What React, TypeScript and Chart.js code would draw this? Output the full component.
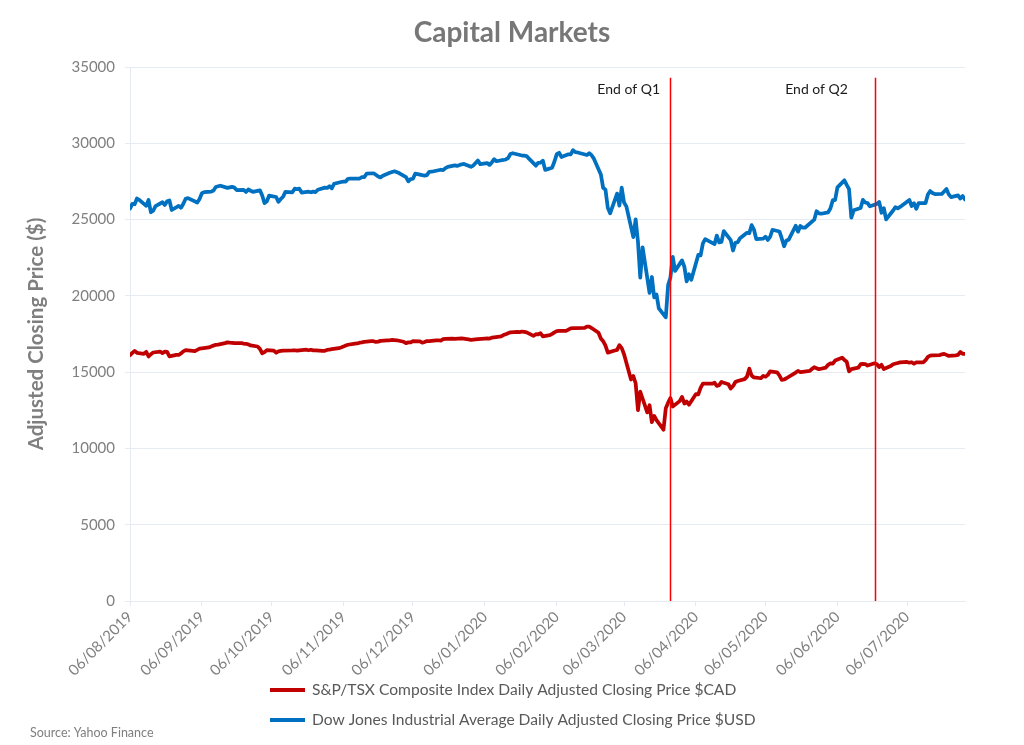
import { useEffect, useRef } from 'react';
import { Chart, registerables } from 'chart.js';

Chart.register(...registerables);

// ---------- data ----------
const CHART_TITLE = 'Capital Markets';
const Y_AXIS_TITLE = 'Adjusted Closing Price ($)';
const SOURCE_TEXT = 'Source: Yahoo Finance';

const AXIS_START = '2019-08-06';
const AXIS_END = '2020-07-31';
const X_TICK_LABELS = [
  '06/08/2019', '06/09/2019', '06/10/2019', '06/11/2019', '06/12/2019', '06/01/2020',
  '06/02/2020', '06/03/2020', '06/04/2020', '06/05/2020', '06/06/2020', '06/07/2020',
];
const Y_MIN = 0;
const Y_MAX = 35000;
const Y_STEP = 5000;

const TSX_LABEL = 'S&P/TSX Composite Index Daily Adjusted Closing Price $CAD';
const DOW_LABEL = 'Dow Jones Industrial Average Daily Adjusted Closing Price $USD';

const TSX_DATES = [
  '2019-08-06', '2019-08-07', '2019-08-08', '2019-08-09', '2019-08-12', '2019-08-13', '2019-08-14', '2019-08-15', '2019-08-16', '2019-08-19', '2019-08-20', '2019-08-21', '2019-08-22', '2019-08-23', '2019-08-26', '2019-08-27', '2019-08-28', '2019-08-29', '2019-08-30',
  '2019-09-03', '2019-09-04', '2019-09-05', '2019-09-06', '2019-09-09', '2019-09-10', '2019-09-11', '2019-09-12', '2019-09-13', '2019-09-16', '2019-09-17', '2019-09-18', '2019-09-19', '2019-09-20', '2019-09-23', '2019-09-24', '2019-09-25', '2019-09-26', '2019-09-27', '2019-09-30',
  '2019-10-01', '2019-10-02', '2019-10-03', '2019-10-04', '2019-10-07', '2019-10-08', '2019-10-09', '2019-10-10', '2019-10-11', '2019-10-15', '2019-10-16', '2019-10-17', '2019-10-18', '2019-10-21', '2019-10-22', '2019-10-23', '2019-10-24', '2019-10-25', '2019-10-28', '2019-10-29', '2019-10-30', '2019-10-31',
  '2019-11-01', '2019-11-04', '2019-11-05', '2019-11-06', '2019-11-07', '2019-11-08', '2019-11-11', '2019-11-12', '2019-11-13', '2019-11-14', '2019-11-15', '2019-11-18', '2019-11-19', '2019-11-20', '2019-11-21', '2019-11-22', '2019-11-25', '2019-11-26', '2019-11-27', '2019-11-28', '2019-11-29',
  '2019-12-02', '2019-12-03', '2019-12-04', '2019-12-05', '2019-12-06', '2019-12-09', '2019-12-10', '2019-12-11', '2019-12-12', '2019-12-13', '2019-12-16', '2019-12-17', '2019-12-18', '2019-12-19', '2019-12-20', '2019-12-23', '2019-12-24', '2019-12-27', '2019-12-30', '2019-12-31',
  '2020-01-02', '2020-01-03', '2020-01-06', '2020-01-07', '2020-01-08', '2020-01-09', '2020-01-10', '2020-01-13', '2020-01-14', '2020-01-15', '2020-01-16', '2020-01-17', '2020-01-20', '2020-01-21', '2020-01-22', '2020-01-23', '2020-01-24', '2020-01-27', '2020-01-28', '2020-01-29', '2020-01-30', '2020-01-31',
  '2020-02-03', '2020-02-04', '2020-02-05', '2020-02-06', '2020-02-07', '2020-02-10', '2020-02-11', '2020-02-12', '2020-02-13', '2020-02-14', '2020-02-18', '2020-02-19', '2020-02-20', '2020-02-21', '2020-02-24', '2020-02-25', '2020-02-26', '2020-02-27', '2020-02-28',
  '2020-03-02', '2020-03-03', '2020-03-04', '2020-03-05', '2020-03-06', '2020-03-09', '2020-03-10', '2020-03-11', '2020-03-12', '2020-03-13', '2020-03-16', '2020-03-17', '2020-03-18', '2020-03-19', '2020-03-20', '2020-03-23', '2020-03-24', '2020-03-25', '2020-03-26', '2020-03-27', '2020-03-30', '2020-03-31',
  '2020-04-01', '2020-04-02', '2020-04-03', '2020-04-06', '2020-04-07', '2020-04-08', '2020-04-09', '2020-04-13', '2020-04-14', '2020-04-15', '2020-04-16', '2020-04-17', '2020-04-20', '2020-04-21', '2020-04-22', '2020-04-23', '2020-04-24', '2020-04-27', '2020-04-28', '2020-04-29', '2020-04-30',
  '2020-05-01', '2020-05-04', '2020-05-05', '2020-05-06', '2020-05-07', '2020-05-08', '2020-05-11', '2020-05-12', '2020-05-13', '2020-05-14', '2020-05-15', '2020-05-19', '2020-05-20', '2020-05-21', '2020-05-22', '2020-05-25', '2020-05-26', '2020-05-27', '2020-05-28', '2020-05-29',
  '2020-06-01', '2020-06-02', '2020-06-03', '2020-06-04', '2020-06-05', '2020-06-08', '2020-06-09', '2020-06-10', '2020-06-11', '2020-06-12', '2020-06-15', '2020-06-16', '2020-06-17', '2020-06-18', '2020-06-19', '2020-06-22', '2020-06-23', '2020-06-24', '2020-06-25', '2020-06-26', '2020-06-29', '2020-06-30',
  '2020-07-02', '2020-07-03', '2020-07-06', '2020-07-07', '2020-07-08', '2020-07-09', '2020-07-10', '2020-07-13', '2020-07-14', '2020-07-15', '2020-07-16', '2020-07-17', '2020-07-20', '2020-07-21', '2020-07-22', '2020-07-23', '2020-07-24', '2020-07-27', '2020-07-28', '2020-07-29', '2020-07-30', '2020-07-31',
];
const TSX_VALUES = [
  16112, 16262, 16396, 16269, 16204, 16330, 16025, 16174, 16287, 16350, 16250, 16341, 16327, 16037, 16137, 16127, 16228, 16364, 16442,
  16384, 16458, 16538, 16560, 16620, 16680, 16740, 16790, 16800, 16900, 16950, 16930, 16920, 16900, 16910, 16870, 16860, 16820, 16750, 16680,
  16524, 16238, 16312, 16448, 16412, 16272, 16366, 16390, 16415, 16428, 16435, 16412, 16427, 16471, 16433, 16467, 16425, 16419, 16393, 16396, 16459, 16483,
  16503, 16571, 16617, 16675, 16744, 16794, 16870, 16880, 16930, 16950, 16990, 17030, 17030, 16980, 17000, 17050, 17080, 17090, 17110, 17100, 17090,
  16990, 16900, 16950, 16950, 17040, 17020, 16930, 16980, 17040, 17030, 17080, 17090, 17070, 17160, 17180, 17200, 17180, 17210, 17150, 17110,
  17150, 17170, 17200, 17210, 17200, 17260, 17280, 17340, 17430, 17490, 17550, 17610, 17640, 17620, 17660, 17640, 17610, 17380, 17490, 17480, 17550, 17340,
  17420, 17510, 17610, 17690, 17700, 17710, 17790, 17870, 17880, 17890, 17900, 17990, 17980, 17890, 17580, 17210, 17030, 16740, 16280,
  16420, 16460, 16770, 16570, 16175, 14514, 14743, 14270, 12508, 13716, 12360, 12829, 11721, 12129, 11852, 11228, 12640, 12999, 13300, 12750, 13100, 13379,
  12946, 13074, 12869, 13564, 13538, 13964, 14242, 14246, 14309, 14094, 14146, 14359, 14205, 13928, 14087, 14355, 14420, 14544, 14705, 15228, 14781,
  14650, 14600, 14750, 14700, 14820, 15050, 14990, 14780, 14490, 14520, 14600, 14970, 15080, 15000, 15020, 15080, 15200, 15320, 15260, 15190,
  15300, 15480, 15580, 15560, 15760, 15950, 15800, 15680, 15050, 15200, 15300, 15520, 15540, 15530, 15430, 15580, 15520, 15330, 15480, 15200, 15400, 15520,
  15600, 15640, 15670, 15620, 15650, 15550, 15640, 15640, 15780, 16000, 16080, 16100, 16110, 16170, 16200, 16130, 16060, 16100, 16130, 16320, 16200, 16190,
];

const DOW_DATES = [
  '2019-08-06', '2019-08-07', '2019-08-08', '2019-08-09', '2019-08-10', '2019-08-13', '2019-08-14', '2019-08-15', '2019-08-16', '2019-08-17', '2019-08-20', '2019-08-21', '2019-08-22', '2019-08-23', '2019-08-24', '2019-08-27', '2019-08-28', '2019-08-29', '2019-08-30', '2019-08-31',
  '2019-09-04', '2019-09-05', '2019-09-06', '2019-09-07', '2019-09-10', '2019-09-11', '2019-09-12', '2019-09-13', '2019-09-14', '2019-09-17', '2019-09-18', '2019-09-19', '2019-09-20', '2019-09-21', '2019-09-24', '2019-09-25', '2019-09-26', '2019-09-27', '2019-09-28', '2019-10-01',
  '2019-10-02', '2019-10-03', '2019-10-04', '2019-10-05', '2019-10-08', '2019-10-09', '2019-10-10', '2019-10-11', '2019-10-12', '2019-10-15', '2019-10-16', '2019-10-17', '2019-10-18', '2019-10-19', '2019-10-22', '2019-10-23', '2019-10-24', '2019-10-25', '2019-10-26', '2019-10-29', '2019-10-30', '2019-10-31', '2019-11-01',
  '2019-11-02', '2019-11-05', '2019-11-06', '2019-11-07', '2019-11-08', '2019-11-09', '2019-11-12', '2019-11-13', '2019-11-14', '2019-11-15', '2019-11-16', '2019-11-19', '2019-11-20', '2019-11-21', '2019-11-22', '2019-11-23', '2019-11-26', '2019-11-27', '2019-11-28', '2019-11-30',
  '2019-12-03', '2019-12-04', '2019-12-05', '2019-12-06', '2019-12-07', '2019-12-10', '2019-12-11', '2019-12-12', '2019-12-13', '2019-12-14', '2019-12-17', '2019-12-18', '2019-12-19', '2019-12-20', '2019-12-21', '2019-12-24', '2019-12-25', '2019-12-27', '2019-12-28', '2019-12-31', '2020-01-01',
  '2020-01-03', '2020-01-04', '2020-01-07', '2020-01-08', '2020-01-09', '2020-01-10', '2020-01-11', '2020-01-14', '2020-01-15', '2020-01-16', '2020-01-17', '2020-01-18', '2020-01-22', '2020-01-23', '2020-01-24', '2020-01-25', '2020-01-28', '2020-01-29', '2020-01-30', '2020-01-31', '2020-02-01',
  '2020-02-04', '2020-02-05', '2020-02-06', '2020-02-07', '2020-02-08', '2020-02-11', '2020-02-12', '2020-02-13', '2020-02-14', '2020-02-15', '2020-02-19', '2020-02-20', '2020-02-21', '2020-02-22', '2020-02-25', '2020-02-26', '2020-02-27', '2020-02-28', '2020-02-29',
  '2020-03-03', '2020-03-04', '2020-03-05', '2020-03-06', '2020-03-07', '2020-03-10', '2020-03-11', '2020-03-12', '2020-03-13', '2020-03-14', '2020-03-17', '2020-03-18', '2020-03-19', '2020-03-20', '2020-03-21', '2020-03-24', '2020-03-25', '2020-03-26', '2020-03-27', '2020-03-28', '2020-03-31', '2020-04-01',
  '2020-04-02', '2020-04-03', '2020-04-04', '2020-04-07', '2020-04-08', '2020-04-09', '2020-04-10', '2020-04-14', '2020-04-15', '2020-04-16', '2020-04-17', '2020-04-18', '2020-04-21', '2020-04-22', '2020-04-23', '2020-04-24', '2020-04-25', '2020-04-28', '2020-04-29', '2020-04-30', '2020-05-01',
  '2020-05-02', '2020-05-05', '2020-05-06', '2020-05-07', '2020-05-08', '2020-05-09', '2020-05-12', '2020-05-13', '2020-05-14', '2020-05-15', '2020-05-16', '2020-05-19', '2020-05-20', '2020-05-21', '2020-05-22', '2020-05-23', '2020-05-27', '2020-05-28', '2020-05-29', '2020-05-30',
  '2020-06-02', '2020-06-03', '2020-06-04', '2020-06-05', '2020-06-06', '2020-06-09', '2020-06-10', '2020-06-11', '2020-06-12', '2020-06-13', '2020-06-16', '2020-06-17', '2020-06-18', '2020-06-19', '2020-06-20', '2020-06-23', '2020-06-24', '2020-06-25', '2020-06-26', '2020-06-27', '2020-06-30', '2020-07-01',
  '2020-07-02', '2020-07-03', '2020-07-07', '2020-07-08', '2020-07-09', '2020-07-10', '2020-07-11', '2020-07-14', '2020-07-15', '2020-07-16', '2020-07-17', '2020-07-18', '2020-07-21', '2020-07-22', '2020-07-23', '2020-07-24', '2020-07-25', '2020-07-28', '2020-07-29', '2020-07-30', '2020-07-31',
];
const DOW_VALUES = [
  25718, 26030, 26007, 26378, 26287, 25897, 26280, 25479, 25579, 25886, 26136, 25962, 26202, 26252, 25628, 25898, 25778, 26036, 26362, 26403,
  26118, 26355, 26728, 26797, 26835, 26909, 27137, 27182, 27220, 27076, 27110, 27147, 27094, 26935, 26949, 26807, 26970, 26891, 26820, 26917,
  26573, 26078, 26201, 26573, 26478, 26164, 26346, 26497, 26817, 26787, 27024, 27001, 27026, 26770, 26827, 26788, 26833, 26805, 26958, 27091, 27071, 27186, 27046,
  27347, 27462, 27492, 27492, 27675, 27681, 27691, 27691, 27784, 27782, 28005, 28036, 27934, 27821, 27766, 27876, 28066, 28121, 28164, 28051,
  27783, 27503, 27650, 27677, 28015, 27910, 27881, 27911, 28132, 28135, 28235, 28267, 28239, 28377, 28455, 28551, 28515, 28621, 28645, 28462, 28538,
  28868, 28634, 28703, 28583, 28745, 28956, 28824, 28907, 28940, 29030, 29297, 29348, 29196, 29186, 29160, 28990, 28535, 28723, 28734, 28859, 28256,
  28400, 28807, 29291, 29380, 29103, 29276, 29277, 29551, 29424, 29398, 29232, 29348, 29220, 28992, 27961, 27081, 26957, 25767, 25409,
  26703, 25917, 27091, 26121, 25865, 23851, 25018, 23553, 21200, 23185, 20189, 21237, 19899, 20087, 19174, 18592, 20705, 21201, 22552, 21637, 22327, 21917,
  20944, 21413, 21053, 22680, 22654, 23434, 23720, 23390, 23950, 23505, 23538, 24242, 23650, 22973, 23475, 23516, 23775, 24134, 24102, 24634, 24346,
  23724, 23750, 23883, 23665, 23875, 24331, 24221, 23765, 23248, 23625, 23685, 24597, 24207, 24576, 24474, 24465, 24995, 25548, 25401, 25383,
  25475, 25742, 26270, 26282, 27111, 27572, 27273, 26990, 25128, 25606, 25763, 26290, 26120, 26080, 25871, 26025, 26156, 25446, 25745, 25016, 25596, 25813,
  25735, 25827, 26288, 25891, 26067, 25706, 26075, 26086, 26643, 26870, 26735, 26672, 26681, 26840, 27006, 26652, 26470, 26585, 26379, 26540, 26314,
];

const QUARTER_LABELS = ['End of Q1', 'End of Q2'];
const QUARTER_LINE_DATES = ['2020-03-26', '2020-06-22'];
const QUARTER_LABEL_DATES = ['2020-03-08', '2020-05-28'];
const QUARTER_LINE_TOP = 34300;
const QUARTER_LABEL_LEVEL = 33550;

// ---------- helpers ----------
const DAY_MS = 86400000;
const isoToUtc = (iso: string) => {
  const [y, m, d] = iso.split('-').map(Number);
  return Date.UTC(y, m - 1, d);
};
const dmyToUtc = (dmy: string) => {
  const [d, m, y] = dmy.split('/').map(Number);
  return Date.UTC(y, m - 1, d);
};
const START_MS = isoToUtc(AXIS_START);
const dayOfIso = (iso: string) => (isoToUtc(iso) - START_MS) / DAY_MS;
const dayOfDmy = (dmy: string) => (dmyToUtc(dmy) - START_MS) / DAY_MS;

const FONT = 'Lato';
const RED = '#C00000';
const BLUE = '#0070C0';
const GRID = '#e6ebf3';

const overlayPlugin = {
  id: 'overlay',
  afterDatasetsDraw(chart: any) {
    const { ctx, chartArea, scales } = chart;
    const xs = scales.x;
    const ys = scales.y;
    ctx.save();
    QUARTER_LINE_DATES.forEach((d, i) => {
      const x = Math.round(xs.getPixelForValue(dayOfIso(d))) + 0.5;
      ctx.strokeStyle = '#ff0000';
      ctx.lineWidth = 1.5;
      ctx.beginPath();
      ctx.moveTo(x, ys.getPixelForValue(QUARTER_LINE_TOP));
      ctx.lineTo(x, chartArea.bottom);
      ctx.stroke();
      ctx.fillStyle = '#1a1a1a';
      ctx.font = `14px ${FONT}`;
      ctx.textAlign = 'center';
      ctx.textBaseline = 'middle';
      ctx.fillText(
        QUARTER_LABELS[i],
        xs.getPixelForValue(dayOfIso(QUARTER_LABEL_DATES[i])),
        ys.getPixelForValue(QUARTER_LABEL_LEVEL),
      );
    });
    ctx.restore();
  },
  afterDraw(chart: any) {
    const { ctx, width } = chart;
    ctx.save();
    // title
    ctx.fillStyle = '#777777';
    ctx.font = `bold 28px ${FONT}`;
    ctx.textAlign = 'center';
    ctx.textBaseline = 'middle';
    ctx.fillText(CHART_TITLE, width / 2, 33);

    // legend (stacked rows, left-aligned block centred on canvas)
    ctx.font = `15.6px ${FONT}`;
    const ds = chart.data.datasets;
    const lineLen = 35;
    const gap = 7;
    const maxText = Math.max(...ds.map((d: any) => ctx.measureText(d.label).width));
    const left = Math.round((width - (lineLen + gap + maxText)) / 2) + 1;
    const rowYs = [690, 720];
    ds.forEach((d: any, i: number) => {
      const y = rowYs[i];
      ctx.strokeStyle = d.borderColor;
      ctx.lineWidth = 4;
      ctx.lineCap = 'butt';
      ctx.beginPath();
      ctx.moveTo(left, y);
      ctx.lineTo(left + lineLen, y);
      ctx.stroke();
      ctx.fillStyle = '#595959';
      ctx.textAlign = 'left';
      ctx.textBaseline = 'middle';
      ctx.fillText(d.label, left + lineLen + gap, y);
    });

    // source
    ctx.fillStyle = '#7f7f7f';
    ctx.font = `12.5px ${FONT}`;
    ctx.textAlign = 'left';
    ctx.textBaseline = 'middle';
    ctx.fillText(SOURCE_TEXT, 30, 733);
    ctx.restore();
  },
};

export default function App() {
  const canvasRef = useRef<HTMLCanvasElement | null>(null);

  useEffect(() => {
    if (!canvasRef.current) return;
    const chart = new Chart(canvasRef.current, {
      type: 'line',
      data: {
        datasets: [
          {
            label: TSX_LABEL,
            data: TSX_DATES.map((d, i) => ({ x: dayOfIso(d), y: TSX_VALUES[i] })),
            borderColor: RED,
            backgroundColor: RED,
            borderWidth: 3.75,
            pointRadius: 0,
            tension: 0,
            borderJoinStyle: 'round',
            borderCapStyle: 'round',
          },
          {
            label: DOW_LABEL,
            data: DOW_DATES.map((d, i) => ({ x: dayOfIso(d), y: DOW_VALUES[i] })),
            borderColor: BLUE,
            backgroundColor: BLUE,
            borderWidth: 3.75,
            pointRadius: 0,
            tension: 0,
            borderJoinStyle: 'round',
            borderCapStyle: 'round',
          },
        ],
      },
      options: {
        responsive: false,
        animation: false,
        devicePixelRatio: 1,
        layout: { padding: { top: 67, right: 59, bottom: 0, left: 0 } },
        plugins: {
          legend: { display: false },
          title: { display: false },
          tooltip: { enabled: false },
        },
        scales: {
          x: {
            type: 'linear',
            min: 0,
            max: dayOfIso(AXIS_END),
            afterBuildTicks: (scale: any) => {
              scale.ticks = X_TICK_LABELS.map((l) => ({ value: dayOfDmy(l) }));
            },
            afterFit: (scale: any) => {
              scale.height = 144;
            },
            ticks: {
              autoSkip: false,
              minRotation: 45,
              maxRotation: 45,
              color: '#7f7f7f',
              padding: 2,
              font: { family: FONT, size: 15 },
              callback: (_v: any, i: number) => X_TICK_LABELS[i],
            },
            grid: {
              drawOnChartArea: false,
              drawTicks: true,
              tickLength: 5,
              color: GRID,
            },
            border: { display: true, color: GRID, width: 1 },
          },
          y: {
            min: Y_MIN,
            max: Y_MAX,
            afterFit: (scale: any) => {
              scale.width = 130;
            },
            ticks: {
              stepSize: Y_STEP,
              color: '#7f7f7f',
              padding: 10,
              font: { family: FONT, size: 15 },
              callback: (v: any) => String(v),
            },
            grid: { color: GRID, tickLength: 5 },
            border: { display: true, color: GRID, width: 1 },
            title: {
              display: true,
              text: Y_AXIS_TITLE,
              color: '#7f7f7f',
              font: { family: FONT, size: 20.5, weight: 'bold' },
              padding: { top: 24, bottom: 0 },
            },
          },
        },
      },
      plugins: [overlayPlugin],
    } as any);
    return () => chart.destroy();
  }, []);

  return (
    <div style={{ position: 'fixed', left: 0, top: 0, width: 1024, height: 745, background: '#ffffff' }}>
      <canvas ref={canvasRef} width={1024} height={745} />
    </div>
  );
}
